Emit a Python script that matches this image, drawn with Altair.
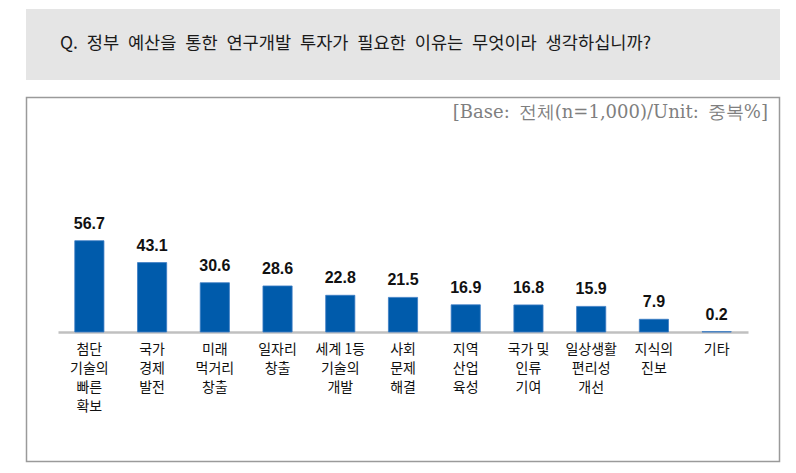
import altair as alt
import pandas as pd

categories = [
    "첨단|기술의|빠른|확보",
    "국가|경제|발전",
    "미래|먹거리|창출",
    "일자리|창출",
    "세계 1등|기술의|개발",
    "사회|문제|해결",
    "지역|산업|육성",
    "국가 및|인류|기여",
    "일상생활|편리성|개선",
    "지식의|진보",
    "기타",
]
values = [56.7, 43.1, 30.6, 28.6, 22.8, 21.5, 16.9, 16.8, 15.9, 7.9, 0.2]
title_text = "Q.\u2002정부\u2002예산을\u2002통한\u2002연구개발\u2002투자가\u2002필요한\u2002이유는\u2002무엇이라\u2002생각하십니까?"
base_text = "[Base:\u2002전체(n=1,000)/Unit:\u2002중복%]"

df = pd.DataFrame({"cat": categories, "val": values})
one = pd.DataFrame({"a": [0]})

KFONT = "Noto Sans CJK KR"

x_enc = alt.X(
    "cat:N",
    sort=categories,
    scale=alt.Scale(paddingInner=0.535, paddingOuter=0.2675),
    axis=alt.Axis(
        title=None,
        labelAngle=0,
        ticks=False,
        domainColor="#c0c0c0",
        domainWidth=2.5,
        labelFont=KFONT,
        labelFontSize=14,
        labelColor="#111111",
        labelLineHeight=19,
        labelPadding=10,
        labelExpr="split(datum.label, '|')",
    ),
)
y_enc = alt.Y("val:Q", scale=alt.Scale(domain=[0, 100]), axis=None)

bg_box = alt.Chart(one).mark_rect(color="#e5e5e5").encode(
    x=alt.value(-32), x2=alt.value(722), y=alt.value(-162), y2=alt.value(-91)
)
frame = alt.Chart(one).mark_rect(
    fillOpacity=0, stroke="#9a9a9a", strokeWidth=1.5
).encode(
    x=alt.value(-31.5), x2=alt.value(721.5), y=alt.value(-73.5), y2=alt.value(290.5)
)
title = alt.Chart(one).mark_text(
    text=title_text, align="left", baseline="middle",
    font=KFONT, fontSize=17.6, color="#1a1a1a"
).encode(x=alt.value(2), y=alt.value(-127))
base = alt.Chart(one).mark_text(
    text=base_text, align="right", baseline="middle",
    font="DejaVu Serif", fontSize=18, color="#7f7f7f"
).encode(x=alt.value(710), y=alt.value(-58))

bars = alt.Chart(df).mark_bar(color="#005bab", stroke="#3c7cc4", strokeWidth=0.8).encode(
    x=x_enc, y=y_enc
)
labels = alt.Chart(df).mark_text(
    dy=-17, baseline="middle", font="Liberation Sans", fontWeight="bold",
    fontSize=16, color="#111111"
).encode(
    x=alt.X("cat:N", sort=categories),
    y=alt.Y("val:Q"),
    text=alt.Text("val:Q", format=".1f"),
)

chart = alt.layer(bg_box, frame, title, base, bars, labels).properties(
    width=690,
    height=161,
    autosize=alt.AutoSizeParams(type="none"),
    padding={"left": 58, "top": 171, "right": 48, "bottom": 141},
    background="white",
).configure_view(stroke=None)

chart.save("out.html", embed_options={"renderer": "svg", "actions": False})
